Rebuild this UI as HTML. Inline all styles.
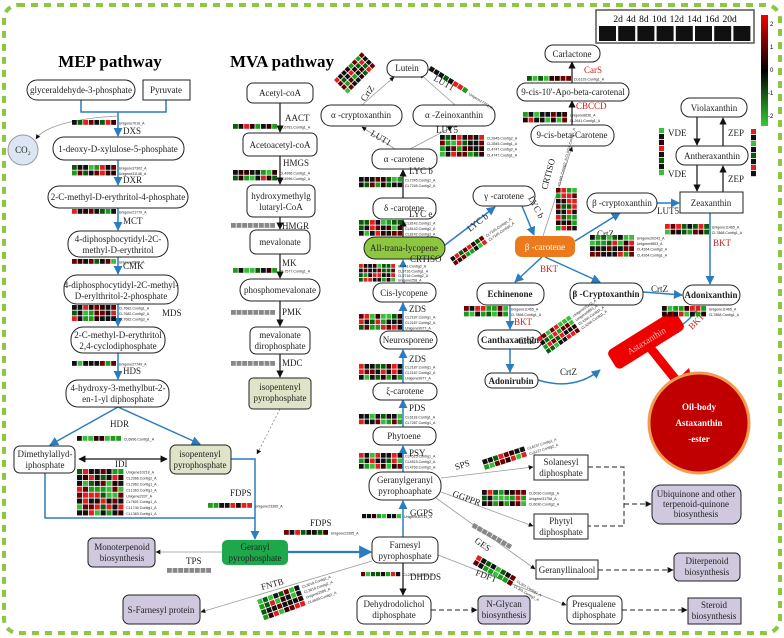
<!DOCTYPE html>
<html><head><meta charset="utf-8"><style>
body{margin:0;background:#fff}
svg{display:block;font-family:"Liberation Serif",serif}
.n{fill:#fff;stroke:#222;stroke-width:1}
.t{font-size:9px;fill:#222;text-anchor:middle}
.b{font-weight:bold}
.e{font-size:9px;fill:#222}
.r{font-size:9px;fill:#d02020}
.s{font-family:"Liberation Sans",sans-serif;font-size:3.6px;fill:#222}
.bl{stroke:#2a7dc0;stroke-width:1.5;fill:none}
.bk{stroke:#111;stroke-width:1.2;fill:none}
.gr{stroke:#999;stroke-width:.8;fill:none}
.ds{stroke:#222;stroke-width:1;stroke-dasharray:5 3;fill:none}
.lav{fill:#cfc8df;stroke:#222}
</style></head><body>
<svg id="s" width="784" height="638" viewBox="0 0 784 638" xmlns="http://www.w3.org/2000/svg">
<defs>
<marker id="ab" viewBox="0 0 10 10" refX="9" refY="5" markerWidth="6" markerHeight="6" orient="auto"><path d="M0,0L10,5L0,10z" fill="#2a7dc0"/></marker>
<marker id="ak" viewBox="0 0 10 10" refX="9" refY="5" markerWidth="6" markerHeight="6" orient="auto"><path d="M0,0L10,5L0,10z" fill="#111"/></marker>
<marker id="ak2" viewBox="0 0 10 10" refX="1" refY="5" markerWidth="6" markerHeight="6" orient="auto"><path d="M10,0L0,5L10,10z" fill="#111"/></marker>
</defs>
<rect x="4" y="5" width="776" height="628" rx="14" fill="none" stroke="#8dc63f" stroke-width="4" stroke-dasharray="7 6"/>

<text x="110" y="67" font-size="17" font-weight="bold" text-anchor="middle">MEP pathway</text>
<text x="282" y="67" font-size="17" font-weight="bold" text-anchor="middle">MVA pathway</text>

<!-- MEP edges -->
<path class="bl" d="M81,100V112H166V100M118,112V136" marker-end="url(#ab)"/>
<path class="gr" d="M118,116C80,118 45,125 36,139" marker-end="url(#ak)"/>
<path class="bl" d="M118,160V185" marker-end="url(#ab)"/>
<path class="bl" d="M118,208V230" marker-end="url(#ab)"/>
<path class="bl" d="M118,257V274" marker-end="url(#ab)"/>
<path class="bl" d="M118,304V326" marker-end="url(#ab)"/>
<path class="bl" d="M118,353V379" marker-end="url(#ab)"/>
<path class="bl" d="M118,407L50,445" marker-end="url(#ab)"/>
<path class="bl" d="M118,407L200,444" marker-end="url(#ab)"/>
<path class="bk" d="M79,459H167" marker-start="url(#ak2)" marker-end="url(#ak)"/>
<path class="bl" d="M231,459H255V539" marker-end="url(#ab)"/>
<path class="bl" d="M45,473V518H255"/>
<path stroke="#2a7dc0" stroke-width="2.2" fill="none" d="M288,552H371" marker-end="url(#ab)"/>
<path class="gr" d="M222,552H156" marker-end="url(#ak)"/>
<path class="gr" d="M372,561L201,612" marker-end="url(#ak)"/>
<!-- MVA edges -->
<path class="bk" d="M280,103V132" marker-end="url(#ak)"/>
<path class="bk" d="M280,156V184" marker-end="url(#ak)"/>
<path class="bk" d="M280,217V229" marker-end="url(#ak)"/>
<path class="bk" d="M280,254V278" marker-end="url(#ak)"/>
<path class="bk" d="M280,301V326" marker-end="url(#ak)"/>
<path class="bk" d="M280,354V377" marker-end="url(#ak)"/>
<path stroke="#888" stroke-width=".8" stroke-dasharray="2 2" fill="none" d="M280,409L257,454" marker-end="url(#ak)"/>
<!-- carotenoid edges -->
<path class="bl" d="M403,537V501" marker-end="url(#ab)"/>
<path class="bl" d="M403,472V446" marker-end="url(#ab)"/>
<path class="bl" d="M403,427V400" marker-end="url(#ab)"/>
<path class="bl" d="M403,383V350" marker-end="url(#ab)"/>
<path class="bl" d="M403,331V303" marker-end="url(#ab)"/>
<path stroke="#7fb0c0" stroke-width="1.3" fill="none" d="M403,283V260" marker-end="url(#ab)"/>
<path class="bk" d="M403,237V220" marker-end="url(#ak)"/>
<path class="bk" d="M403,198V170" marker-end="url(#ak)"/>
<path class="gr" d="M395,149L362,127" marker-end="url(#ak)"/>
<path class="gr" d="M410,149L452,127" marker-end="url(#ak)"/>
<path class="gr" d="M362,105L394,77" marker-end="url(#ak)"/>
<path class="gr" d="M455,105L420,74" marker-end="url(#ak)"/>
<path class="bl" d="M445,245L495,207" marker-end="url(#ab)"/>
<path class="bl" d="M522,206L534,235" marker-end="url(#ab)"/>
<path class="gr" d="M543,236L572,147" marker-end="url(#ak)"/>
<path class="bk" d="M572,125V101" marker-end="url(#ak)"/>
<path class="bk" d="M572,83V62" marker-end="url(#ak)"/>
<path class="bl" d="M575,241L620,213" marker-end="url(#ab)"/>
<path class="bl" d="M657,203H679" marker-end="url(#ab)"/>
<path class="bl" d="M710,213V284" marker-end="url(#ab)"/>
<path class="bl" d="M542,257L515,282" marker-end="url(#ab)"/>
<path class="bl" d="M545,257L600,282" marker-end="url(#ab)"/>
<path class="bl" d="M643,292L682,295" marker-end="url(#ab)"/>
<path class="bl" d="M510,305V329" marker-end="url(#ab)"/>
<path class="bl" d="M510,349V372" marker-end="url(#ab)"/>
<path class="bl" d="M538,380C570,390 590,378 600,370" marker-end="url(#ab)"/>
<path class="bl" d="M700,306C690,320 680,328 670,331" marker-end="url(#ab)"/>
<path class="bk" d="M697,117V145" marker-end="url(#ak)"/>
<path class="bk" d="M697,165V191" marker-end="url(#ak)"/>
<path class="bk" d="M723,192V166" marker-end="url(#ak)"/>
<path class="bk" d="M723,146V118" marker-end="url(#ak)"/>
<path class="gr" d="M441,478L533,467" marker-end="url(#ak)"/>
<path class="gr" d="M441,492L533,526" marker-end="url(#ak)"/>
<path class="gr" d="M436,498L535,569" marker-end="url(#ak)"/>
<path class="gr" d="M438,555L566,605" marker-end="url(#ak)"/>
<path class="bk" d="M403,563V595" marker-end="url(#ak)"/>
<path class="ds" d="M588,467H624V526H588M624,504H651" marker-end="url(#ak)"/>
<path class="ds" d="M598,570H673" marker-end="url(#ak)"/>
<path class="ds" d="M431,610H477" marker-end="url(#ak)"/>
<path class="ds" d="M622,610H687" marker-end="url(#ak)"/>
<!-- big red arrow -->
<path d="M648,345L680,385" stroke="#e00" stroke-width="9" fill="none"/>
<path d="M664,392L697,400L689,368z" fill="#e00"/>

<!-- MEP nodes -->
<rect class="n" x="27" y="80" width="108" height="20" rx="10"/><text class="t" x="81" y="93">glyceraldehyde-3-phosphate</text>
<rect class="n" x="143" y="80" width="47" height="20"/><text class="t" x="166" y="93">Pyruvate</text>
<circle cx="23" cy="150" r="15" fill="#dce6f2" stroke="#999"/><text class="t" x="23" y="153" font-size="10">CO₂</text>
<rect class="n" x="53" y="137" width="131" height="23" rx="11"/><text class="t" x="118" y="152">1-deoxy-D-xylulose-5-phosphate</text>
<rect class="n" x="48" y="186" width="140" height="22" rx="11"/><text class="t" x="118" y="200">2-C-methyl-D-erythritol-4-phosphate</text>
<rect class="n" x="68" y="231" width="100" height="26" rx="12"/><text class="t" x="118" y="242">4-diphosphocytidyl-2C-</text><text class="t" x="118" y="253">methyl-D-erythritol</text>
<rect class="n" x="64" y="275" width="114" height="29" rx="13"/><text class="t" x="121" y="288">4-diphosphocytidyl-2C-methyl-</text><text class="t" x="121" y="299">D-erylthritol-2-phosphate</text>
<rect class="n" x="71" y="327" width="94" height="26" rx="12"/><text class="t" x="118" y="338">2-C-methyl-D-erythritol</text><text class="t" x="118" y="349">2,4-cyclodiphosphate</text>
<rect class="n" x="66" y="380" width="103" height="27" rx="12"/><text class="t" x="118" y="391">4-hydroxy-3-methylbut-2-</text><text class="t" x="118" y="402">en-1-yl diphosphate</text>
<rect class="n" x="14" y="446" width="61" height="27" rx="6"/><text class="t" x="45" y="457">Dimethylallyd-</text><text class="t" x="45" y="468">iphosphate</text>
<rect x="170" y="445" width="61" height="29" rx="6" fill="#dfe3c8" stroke="#222"/><text class="t" x="200" y="457">isopentenyl</text><text class="t" x="200" y="468">pyrophosphate</text>
<rect x="222" y="540" width="66" height="25" rx="5" fill="#1ea84c"/><text class="t" x="255" y="550">Geranyl</text><text class="t" x="255" y="561">pyrophosphate</text>
<rect class="lav" x="88" y="538" width="67" height="29" rx="5"/><text class="t" x="122" y="550">Monoterpenoid</text><text class="t" x="122" y="561">biosynthesis</text>
<rect class="lav" x="123" y="595" width="77" height="29" rx="6"/><text class="t" x="161" y="613">S-Farnesyl protein</text>
<!-- MVA nodes -->
<rect class="n" x="247" y="83" width="66" height="20" rx="6"/><text class="t" x="280" y="96">Acetyl-coA</text>
<rect class="n" x="243" y="133" width="74" height="23" rx="6"/><text class="t" x="280" y="148">Acetoacetyl-coA</text>
<rect class="n" x="247" y="185" width="68" height="32" rx="6"/><text class="t" x="281" y="199">hydroxymethylg</text><text class="t" x="281" y="210">lutaryl-CoA</text>
<rect class="n" x="250" y="230" width="60" height="24" rx="6"/><text class="t" x="280" y="245">mevalonate</text>
<rect class="n" x="240" y="279" width="80" height="22" rx="11"/><text class="t" x="280" y="293">phosphomevalonate</text>
<rect class="n" x="250" y="327" width="60" height="27" rx="6"/><text class="t" x="280" y="338">mevalonate</text><text class="t" x="280" y="349">dirophosphate</text>
<rect x="249" y="378" width="62" height="31" rx="4" fill="#dfe3c8" stroke="#222"/><text class="t" x="280" y="390">isopentenyl</text><text class="t" x="280" y="401">pyrophosphate</text>
<!-- carotenoid nodes -->
<rect class="n" x="387" y="60" width="41" height="17" rx="8"/><text class="t" x="407" y="71">Lutein</text>
<rect class="n" x="321" y="105" width="81" height="21" rx="10"/><text class="t" x="361" y="118">α -cryptoxanthin</text>
<rect class="n" x="413" y="105" width="82" height="21" rx="10"/><text class="t" x="454" y="118">α -Zeinoxanthin</text>
<rect class="n" x="372" y="149" width="65" height="20" rx="9"/><text class="t" x="404" y="162">α -carotene</text>
<rect class="n" x="373" y="198" width="63" height="21" rx="9"/><text class="t" x="404" y="211">δ -carotene</text>
<rect x="364" y="237" width="81" height="22" rx="11" fill="#8dc63f" stroke="#222"/><text class="t" x="404" y="251">All-trana-lycopene</text>
<rect class="n" x="373" y="283" width="63" height="19" rx="9"/><text class="t" x="404" y="296">Cis-lycopene</text>
<rect class="n" x="380" y="331" width="57" height="18" rx="9"/><text class="t" x="408" y="343">Neurosporene</text>
<rect class="n" x="373" y="383" width="64" height="17" rx="8"/><text class="t" x="405" y="394">ξ-carotene</text>
<rect class="n" x="373" y="427" width="63" height="18" rx="8"/><text class="t" x="404" y="439">Phytoene</text>
<rect class="n" x="369" y="472" width="72" height="28" rx="13"/><text class="t" x="405" y="483">Geranylgeranyl</text><text class="t" x="405" y="494">pyrophoaphate</text>
<rect class="n" x="372" y="537" width="66" height="26" rx="7"/><text class="t" x="405" y="548">Farnesyl</text><text class="t" x="405" y="559">pyrophosphate</text>
<rect class="n" x="357" y="596" width="74" height="28" rx="7"/><text class="t" x="394" y="607">Dehydrodolichol</text><text class="t" x="394" y="618">diphosphate</text>
<rect class="lav" x="478" y="596" width="52" height="28" rx="5"/><text class="t" x="504" y="607">N-Glycan</text><text class="t" x="504" y="618">biosynthesis</text>
<rect class="n" x="534" y="455" width="54" height="25"/><text class="t" x="561" y="465">Solanesyl</text><text class="t" x="561" y="476">diphosphate</text>
<rect class="n" x="534" y="514" width="54" height="25"/><text class="t" x="561" y="524">Phytyl</text><text class="t" x="561" y="535">diphosphate</text>
<rect class="lav" x="652" y="485" width="89" height="39" rx="9"/><text class="t" x="696" y="497">Ubiquinone and other</text><text class="t" x="696" y="507">terpenoid-quinone</text><text class="t" x="696" y="517">biosynthesis</text>
<rect class="n" x="536" y="560" width="62" height="19"/><text class="t" x="567" y="573">Geranyllinalool</text>
<rect class="lav" x="674" y="553" width="66" height="28" rx="5"/><text class="t" x="707" y="564">Diterpenoid</text><text class="t" x="707" y="575">biosynthesis</text>
<rect class="n" x="567" y="596" width="55" height="28" rx="6"/><text class="t" x="594" y="607">Presqualene</text><text class="t" x="594" y="618">diphosphate</text>
<rect class="lav" x="688" y="598" width="53" height="26"/><text class="t" x="714" y="608">Steroid</text><text class="t" x="714" y="619">biosynthesis</text>
<!-- right nodes -->
<rect class="n" x="545" y="45" width="55" height="17" rx="8"/><text class="t" x="572" y="57">Carlactone</text>
<rect class="n" x="517" y="83" width="112" height="18" rx="9"/><text class="t" x="573" y="95">9-cis-10'-Apo-beta-carotenal</text>
<rect class="n" x="531" y="125" width="83" height="21" rx="10"/><text class="t" x="572" y="138">9-cis-beta-Carotene</text>
<rect class="n" x="681" y="98" width="66" height="19" rx="9"/><text class="t" x="714" y="111">Violaxanthin</text>
<rect class="n" x="676" y="146" width="72" height="19" rx="9"/><text class="t" x="712" y="159">Antheraxanthin</text>
<rect class="n" x="680" y="192" width="63" height="21"/><text class="t" x="711" y="206">Zeaxanthin</text>
<rect class="n" x="587" y="193" width="70" height="20" rx="10"/><text class="t" x="622" y="206">β -cryptoxanthin</text>
<rect class="n" x="473" y="186" width="62" height="20" rx="10"/><text class="t" x="504" y="199">γ -carotene</text>
<rect x="515" y="236" width="60" height="21" rx="7" fill="#ec7a1c"/><text class="t" x="545" y="250" style="fill:#fff">β -carotene</text>
<rect class="n" x="477" y="283" width="67" height="22" rx="10"/><text class="t b" x="510" y="297">Echinenone</text>
<rect class="n" x="570" y="283" width="73" height="22" rx="10"/><text class="t b" x="606" y="297">β -Cryptoxanthin</text>
<rect class="n" x="683" y="285" width="57" height="20" rx="10"/><text class="t b" x="711" y="298">Adonixanthin</text>
<rect class="n" x="478" y="330" width="64" height="19" rx="9"/><text class="t b" x="510" y="343">Canthaxanthin</text>
<rect class="n" x="485" y="373" width="53" height="15" rx="7"/><text class="t b" x="511" y="384">Adonirubin</text>
<g transform="translate(646,340) rotate(-32)"><rect x="-40" y="-11" width="80" height="22" rx="5" fill="#e00"/><text class="t" x="0" y="4" font-size="11" style="fill:#fbb">Astaxanthin</text></g>
<circle cx="699" cy="423" r="50" fill="#c00000" stroke="#f39a4c" stroke-width="3"/>
<text class="t b" x="699" y="410" font-size="14" style="fill:#fff">Oil-body</text>
<text class="t b" x="699" y="426" font-size="14" style="fill:#fff">Astaxanthin</text>
<text class="t b" x="699" y="442" font-size="14" style="fill:#fff">-ester</text>

<!-- legend -->
<rect x="596" y="10" width="158" height="33" fill="#fff" stroke="#555" stroke-width="1.5"/>
<text x="675" y="22" font-size="9.5" text-anchor="middle" word-spacing="1">2d 4d 8d 10d 12d 14d 16d 20d</text>
<g id="leg"></g>
<defs><linearGradient id="cb" x1="0" y1="0" x2="0" y2="1"><stop offset="0" stop-color="#e00"/><stop offset=".5" stop-color="#000"/><stop offset="1" stop-color="#3c3"/></linearGradient></defs>
<rect x="761" y="15" width="7" height="111" fill="url(#cb)"/>
<g font-size="6" font-family="Liberation Sans"><text x="770" y="26">2</text><text x="770" y="49">1</text><text x="770" y="72">0</text><text x="768" y="95">-1</text><text x="768" y="118">-2</text></g>

<!-- enzyme labels -->
<g class="e">
<text x="123" y="134">DXS</text><text x="123" y="183">DXR</text><text x="123" y="224">MCT</text><text x="123" y="269">CMK</text><text x="162" y="316">MDS</text><text x="123" y="374">HDS</text><text x="110" y="427">HDR</text><text x="115" y="467">IDI</text><text x="230" y="496">FDPS</text><text x="310" y="526">FDPS</text><text x="186" y="564">TPS</text>
<text x="285" y="121">AACT</text><text x="283" y="166">HMGS</text><text x="282" y="229">HMGR</text><text x="282" y="266">MK</text><text x="282" y="315">PMK</text><text x="282" y="366">MDC</text>
<text x="409" y="174">LYC b</text><text x="409" y="217">LYC e</text><text x="410" y="262">CRTISO</text><text x="409" y="312">ZDS</text><text x="409" y="362">ZDS</text><text x="409" y="411">PDS</text><text x="409" y="456">PSY</text><text x="410" y="516">GGPS</text><text x="410" y="580">DHDDS</text><text x="436" y="133">LUT5</text>
<text x="668" y="136">VDE</text><text x="668" y="177">VDE</text><text x="728" y="136">ZEP</text><text x="728" y="182">ZEP</text><text x="657" y="214">LUT5</text><text x="597" y="237">CrtZ</text><text x="651" y="292">CrtZ</text><text x="518" y="344">CrtZ</text><text x="560" y="375">CrtZ</text>
</g>
<g class="e" font-size="9">
<text transform="translate(365,102) rotate(-55)">CrtZ</text>
<text transform="translate(433,80) rotate(30)">LUT1</text>
<text transform="translate(370,135) rotate(30)">LUT1</text>
<text transform="translate(470,232) rotate(-38)">LYC b</text>
<text transform="translate(528,198) rotate(62)">LYC b</text>
<text transform="translate(547,190) rotate(-75)">CRTISO</text>
<text transform="translate(456,470) rotate(-18)">SPS</text>
<text transform="translate(452,496) rotate(20)">GGPPR</text>
<text transform="translate(474,542) rotate(35)">GES</text>
<text transform="translate(475,575) rotate(20)">FDFT</text>
<text transform="translate(262,590) rotate(-15)">FNTB</text>
</g>
<g class="r"><text x="584" y="73">CarS</text><text x="576" y="109">CBCCD</text><text x="713" y="246">BKT</text><text x="540" y="272">BKT</text><text x="514" y="325">BKT</text><text transform="translate(692,330) rotate(-45)">BKT</text></g>
<g id="hm"></g>
</svg>
<script>
var NS="http://www.w3.org/2000/svg",seed=7;
function rnd(){seed=(seed*9301+49297)%233280;return seed/233280;}
var pal=["#e02020","#6a0000","#111","#111","#0a5a0a","#1f9a1f","#3cbc3c","#300000"];
function col(g){if(g)return "#888";return pal[Math.floor(rnd()*pal.length)];}
function hm(x,y,rows,labels,rot,gray,cw,cols){cw=cw||5.6;cols=cols||8;var g=document.createElementNS(NS,"g");
g.setAttribute("transform","translate("+x+","+y+")"+(rot?" rotate("+rot+")":""));
for(var r=0;r<rows;r++)for(var c=0;c<cols;c++){var e=document.createElementNS(NS,"rect");
e.setAttribute("x",c*cw);e.setAttribute("y",r*cw);e.setAttribute("width",cw-0.8);e.setAttribute("height",cw-0.8);e.setAttribute("fill",col(gray));g.appendChild(e);}
(labels||[]).forEach(function(l,i){var t=document.createElementNS(NS,"text");t.setAttribute("class","s");t.setAttribute("x",cols*cw+2);t.setAttribute("y",i*cw+cw*0.8);t.textContent=l;g.appendChild(t);});
document.getElementById("hm").appendChild(g);}
hm(72,120,1,["Unigene7016_A"]);
hm(72,165,2,["Unigene37302_A","Unigene31146_A"]);
hm(72,209,1,["Unigene21770_A"]);
hm(72,259,1,["Unigene6505_A"]);
hm(72,305,3,["CL7682.Contig1_A","CL7682.Contig2_A","CL7682.Contig3_A"]);
hm(72,361,1,["Unigene27749_A"]);
hm(77,436,1,["CL6896.Contig1_A"]);
hm(77,469,8,["Unigene10218_A","CL2366.Contig2_A","CL2962.Contig1_A","CL1363.Contig1_A","Unigene2337_A","CL7601.Contig1_A","CL1740.Contig1_A","CL1363.Contig1_A"],0,0,5.9);
hm(208,503,1,["Unigene23365_A"]);
hm(284,530,1,["Unigene23365_A"]);
hm(167,568,1,[],0,1);
hm(233,124,1,["CL6781.Contig1_A"]);
hm(233,170,2,["CL4996.Contig1_A","CL4996.Contig2_A"]);
hm(231,223,1,[],0,1);hm(231,310,1,[],0,1);hm(231,361,1,[],0,1);
hm(233,268,1,["CL7577.Contig1_A"]);
hm(334,80,4,[],-45,0,5);
hm(431,66,1,["Unigene17751_A"],32);
hm(440,135,4,["CL2845.Contig2_A","CL2845.Contig1_A","CL4747.Contig2_A","CL4747.Contig1_A"]);
hm(359,177,2,["CL7245.Contig1_A","CL7245.Contig2_A"],0,0,5.5);
hm(359,220,3,["CL8142.Contig1_A","CL8142.Contig2_A","CL8142.Contig3_A"],0,0,5.5);
hm(359,264,4,["CL941.Contig2_A","CL9716.Contig1_A","CL9716.Contig2_A","Unigene258_A"],0,0,4.6);
hm(359,314,3,["CL2187.Contig1_A","CL2187.Contig2_A","Unigene9977_A"],0,0,5.5);
hm(359,364,3,["CL2187.Contig1_A","CL2187.Contig2_A","Unigene9977_A"],0,0,5.5);
hm(359,414,2,["CL6118.Contig1_A","CL7287.Contig1_A"],0,0,5.5);
hm(359,453,3,["CL4515.Contig1_A","CL4515.Contig2_A","CL4763.Contig2_A"],0,0,5.5);
hm(362,514,1,["Unigene30715_A"],0,0,5);
hm(361,572,1,["CL2835.Contig1_A"],0,0,5);
hm(450,258,2,["CL7245.Contig1_A","CL7245.Contig2_A"],-35,0,5);
hm(556,188,8,[],0,0,5.4,4);
hm(527,76,1,["CL6129.Contig1_A"]);
hm(523,112,2,["Unigene8636_A","CL2641.Contig1_A"]);
hm(590,235,4,["Unigene20243_A","Unigene9853_A","CL4264.Contig2_A","CL4264.Contig1_A"]);
hm(665,224,2,["Unigene11465_A","CL7868.Contig1_A"]);
hm(464,306,2,["Unigene11465_A","CL7868.Contig1_A"]);
hm(662,306,2,["Unigene11465_A","CL7868.Contig1_A"]);
hm(537,338,4,["Unigene20243_A","Unigene9853_A","CL4264.Contig2_A","CL4264.Contig1_A"],-35,0,5);
hm(482,460,2,["CL6137.Contig1_A","CL6137.Contig2_A"],-18);
hm(482,490,3,["CL6030.Contig1_A","Unigene31758_A","CL6030.Contig2_A"]);
hm(474,523,1,[],30,1);
hm(478,555,2,["CL301.Contig1_A","CL301.Contig2_A"],30);
hm(257,600,4,["CL3019.Contig1_A","CL3019.Contig2_A","Unigene2585_A","CL4609.Contig1_A"],-20);
(function(){var H=document.getElementById("hm");
var lab=document.createElementNS(NS,"text");lab.setAttribute("class","s");lab.setAttribute("transform","translate(560,186) rotate(-75)");lab.textContent="CL941.Contig2_A  CL9716.Contig1_A";H.appendChild(lab);
for(var i=0;i<8;i++){[[659,128],[751,129]].forEach(function(p){var e=document.createElementNS(NS,"rect");e.setAttribute("x",p[0]);e.setAttribute("y",p[1]+i*6);e.setAttribute("width",5);e.setAttribute("height",5.2);e.setAttribute("fill",col());H.appendChild(e);});
var e=document.createElementNS(NS,"rect");e.setAttribute("x",599+i*19.2);e.setAttribute("y",26);e.setAttribute("width",17);e.setAttribute("height",15);e.setAttribute("fill","#111");document.getElementById("leg").appendChild(e);}})();
</script>
</body></html>
